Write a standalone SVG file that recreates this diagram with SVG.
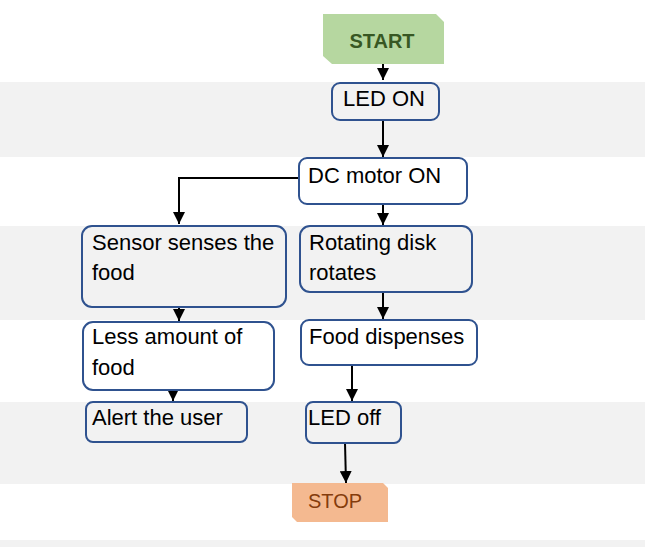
<svg xmlns="http://www.w3.org/2000/svg" width="645" height="547" viewBox="0 0 645 547">
<style>
.band{fill:#f2f2f2}
.box{stroke:#2f528f;stroke-width:2}
.g{fill:#f2f2f2}
.w{fill:#ffffff}
.t{font-family:"Liberation Sans",Arial,sans-serif;font-size:22px;fill:#000}
.c{stroke:#000;stroke-width:2;fill:none}
</style>
<defs>
<marker id="ah" viewBox="0 0 12 12" refX="12" refY="6" markerWidth="12" markerHeight="12" markerUnits="userSpaceOnUse" orient="auto">
<path d="M0,0 L12,6 L0,12 Z" fill="#000"/>
</marker>
</defs>
<rect width="645" height="547" fill="#ffffff"/>
<rect class="band" x="0" y="82" width="645" height="75"/>
<rect class="band" x="0" y="226" width="645" height="94"/>
<rect class="band" x="0" y="402" width="645" height="82"/>
<rect class="band" x="0" y="540" width="645" height="7"/>

<g id="connectors">
<line class="c" x1="383" y1="64" x2="383" y2="80" marker-end="url(#ah)"/>
<line class="c" x1="383" y1="120" x2="383" y2="157" marker-end="url(#ah)"/>
<polyline class="c" points="299,178 179,178 179,224" marker-end="url(#ah)"/>
<line class="c" x1="383" y1="204" x2="383" y2="225" marker-end="url(#ah)"/>
<line class="c" x1="179" y1="307" x2="179" y2="321" marker-end="url(#ah)"/>
<line class="c" x1="383" y1="292" x2="383" y2="319" marker-end="url(#ah)"/>
<line class="c" x1="173" y1="390" x2="173" y2="401" marker-end="url(#ah)"/>
<line class="c" x1="352" y1="365" x2="352" y2="401" marker-end="url(#ah)"/>
<line class="c" x1="345" y1="443" x2="346" y2="483" marker-end="url(#ah)"/>
</g>

<g id="start">
<path d="M323,14 L436,14 L444,22 L444,64 L332,64 L323,56 Z" fill="#b6d7a0"/>
<text x="382" y="48" text-anchor="middle" font-family="Liberation Sans,Arial,sans-serif" font-size="20" font-weight="bold" fill="#385723">START</text>
</g>

<g id="led-on">
<rect class="box g" x="332" y="83" width="107" height="37" rx="8"/>
<text class="t" x="343" y="106">LED ON</text>
</g>

<g id="dc-motor">
<rect class="box w" x="299" y="158" width="168" height="46" rx="8"/>
<text class="t" x="308" y="183">DC motor ON</text>
</g>

<g id="sensor">
<rect class="box g" x="82" y="226" width="204" height="81" rx="10"/>
<text class="t" x="92" y="250">Sensor senses the</text>
<text class="t" x="92" y="280">food</text>
</g>

<g id="rotating">
<rect class="box g" x="300" y="226" width="172" height="66" rx="10"/>
<text class="t" x="309" y="250">Rotating disk</text>
<text class="t" x="309" y="280">rotates</text>
</g>

<g id="less-food">
<rect class="box w" x="83" y="322" width="191" height="68" rx="10"/>
<text class="t" x="92" y="344">Less amount of</text>
<text class="t" x="92" y="375">food</text>
</g>

<g id="dispenses">
<rect class="box w" x="301" y="320" width="176" height="45" rx="8"/>
<text class="t" x="309" y="344">Food dispenses</text>
</g>

<g id="alert">
<rect class="box g" x="86" y="402" width="161" height="40" rx="7"/>
<text class="t" x="92" y="425">Alert the user</text>
</g>

<g id="led-off">
<rect class="box g" x="306" y="402" width="95" height="41" rx="7"/>
<text class="t" x="308" y="425">LED off</text>
</g>

<g id="stop">
<path d="M292,483 L383,483 L388,488 L388,522 L297,522 L292,517 Z" fill="#f4b990"/>
<text x="308" y="508" font-family="Liberation Sans,Arial,sans-serif" font-size="20" fill="#843c0c">STOP</text>
</g>
</svg>
